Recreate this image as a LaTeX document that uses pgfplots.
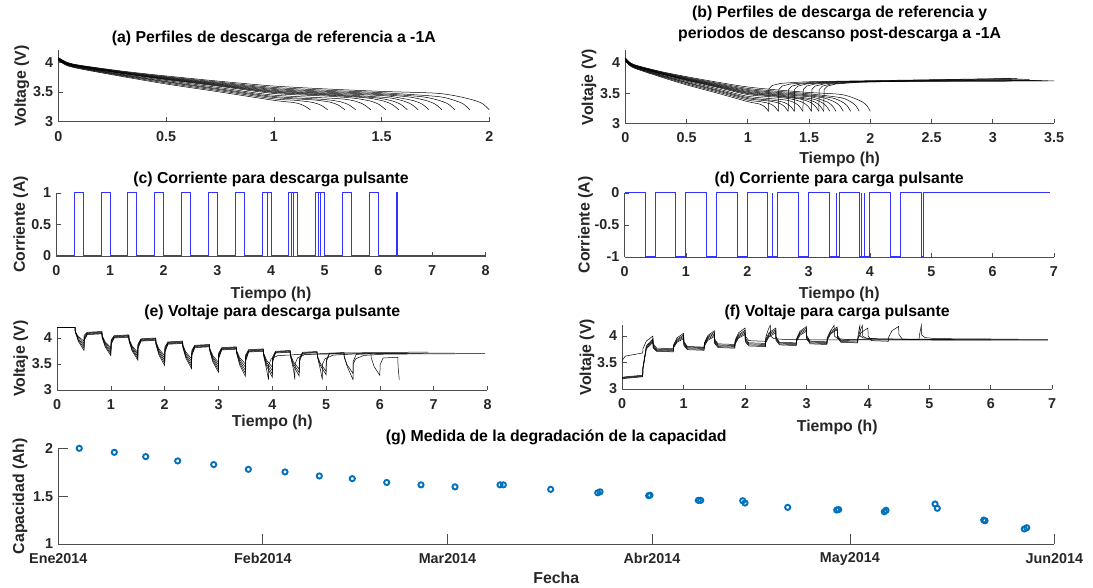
\documentclass[border=0pt]{standalone}
\usepackage{pgfplots}
\pgfplotsset{compat=1.18}
\usepackage{pgfplotstable}
\usepackage{fontspec}
\setmainfont{Liberation Sans}
\definecolor{mgray}{rgb}{0.15,0.15,0.15}
\definecolor{mblue}{rgb}{0,0.447,0.741}
\definecolor{pblue}{rgb}{0.2,0.2,1}
\newcommand\tfont{\fontsize{15.9}{21}\selectfont\bfseries}
\newcommand\kfont{\fontsize{14.4}{16}\selectfont\bfseries}

\pgfplotsset{
  myax/.style={
    scale only axis, clip=false,
    axis x line*=bottom, axis y line*=left,
    tick align=inside,
    axis line style={draw=black!70, line width=0.6bp},
    every tick/.style={draw=black!70, line width=0.6bp},
    major tick length=4.3bp,
    ticklabel style={font=\kfont, text=mgray, inner sep=0pt},
    xticklabel style={anchor=center, yshift=-14.5bp},
    yticklabel style={anchor=east, xshift=-5bp},
    title style={font=\tfont, text=black, anchor=center, inner sep=0pt, align=center},
    xlabel style={font=\tfont, text=mgray, at={(axis description cs:0.5,0)}, anchor=center, inner sep=0pt},
    ylabel style={font=\tfont, text=mgray, anchor=center, inner sep=0pt},
    unbounded coords=jump,
  },
  vline/.style={black, line width=0.5bp},
  sline/.style={black, line width=0.5bp, smooth, tension=0.45},
  cline/.style={draw=pblue, line width=1bp, line join=miter},
}

% ---------- reference discharge curves (a),(b)
\pgfplotstableread{
t v
0 4.08
0.04 4.00
0.1 3.95
0.3 3.85
0.5 3.77
0.75 3.68
1 3.60
1.25 3.55
1.5 3.51
1.75 3.48
1.85 3.43
1.93 3.36
1.97 3.30
2.0 3.2
}\cA
\pgfplotstableread{
t v
0 4.075
0.04 3.995
0.1 3.945
0.3 3.842
0.5 3.758
0.75 3.664
1 3.577
1.25 3.528
1.5 3.488
1.76 3.424
1.84 3.357
1.88 3.297
1.91 3.2
}\cB
\pgfplotstableread{
t v
0 4.07
0.04 3.99
0.1 3.94
0.3 3.836
0.5 3.749
0.75 3.651
1 3.558
1.25 3.51
1.5 3.47
1.69 3.419
1.77 3.355
1.81 3.295
1.84 3.2
}\cC
\pgfplotstableread{
t v
0 4.067
0.04 3.987
0.1 3.937
0.3 3.83
0.5 3.741
0.75 3.64
1 3.543
1.25 3.495
1.5 3.455
1.63 3.415
1.71 3.353
1.75 3.293
1.78 3.2
}\cD
\pgfplotstableread{
t v
0 4.063
0.04 3.983
0.1 3.933
0.3 3.825
0.5 3.734
0.75 3.63
1 3.527
1.25 3.48
1.5 3.44
1.57 3.41
1.65 3.352
1.69 3.292
1.72 3.2
}\cE
\pgfplotstableread{
t v
0 4.06
0.04 3.98
0.1 3.93
0.3 3.82
0.5 3.727
0.75 3.621
1 3.514
1.25 3.468
1.52 3.407
1.60 3.35
1.64 3.29
1.67 3.2
}\cF
\pgfplotstableread{
t v
0 4.057
0.04 3.977
0.1 3.927
0.3 3.816
0.5 3.721
0.75 3.612
1 3.501
1.25 3.455
1.47 3.403
1.55 3.349
1.59 3.289
1.62 3.2
}\cG
\pgfplotstableread{
t v
0 4.055
0.04 3.975
0.1 3.925
0.3 3.812
0.5 3.715
0.75 3.604
1 3.491
1.25 3.445
1.43 3.401
1.51 3.347
1.55 3.287
1.58 3.2
}\cH
\pgfplotstableread{
t v
0 4.051
0.04 3.971
0.1 3.921
0.3 3.807
0.5 3.708
0.75 3.594
1 3.475
1.25 3.43
1.37 3.396
1.45 3.346
1.49 3.286
1.52 3.2
}\cI
\pgfplotstableread{
t v
0 4.047
0.04 3.967
0.1 3.917
0.3 3.795
0.5 3.694
0.75 3.572
1 3.447
1.30 3.388
1.38 3.344
1.42 3.284
1.45 3.2
}\cJ
\pgfplotstableread{
t v
0 4.043
0.04 3.963
0.1 3.91
0.3 3.787
0.5 3.678
0.75 3.552
1 3.425
1.23 3.375
1.31 3.335
1.35 3.28
1.38 3.2
}\cK
\pgfplotstableread{
t v
0 4.04
0.04 3.958
0.1 3.905
0.3 3.78
0.5 3.668
0.75 3.538
1 3.408
1.18 3.368
1.26 3.33
1.30 3.278
1.33 3.2
}\cL
\pgfplotstableread{
t v
0 4.035
0.04 3.952
0.1 3.898
0.3 3.77
0.5 3.652
0.75 3.52
1 3.385
1.10 3.36
1.18 3.325
1.22 3.275
1.25 3.2
}\cM
\pgfplotstableread{
t v
0 4.03
0.04 3.945
0.1 3.89
0.3 3.758
0.5 3.635
0.75 3.5
1 3.36
1.10 3.318
1.14 3.27
1.17 3.2
}\cN

% ---------- pulsed discharge voltage (e)
\pgfplotstableread{
t e0 e1 e2 e3 e4
0 4.2 4.2 4.2 4.2 4.2
0.333 4.2 4.2 4.2 4.2 4.2
0.338 4.12 4.12 4.12 4.12 4.12
0.393 4.03 4.008 3.985 3.963 3.94
0.5 3.94 3.895 3.85 3.805 3.76
0.504 4.051 4.026 4.002 3.977 3.952
0.56 4.11 4.099 4.088 4.076 4.065
0.833 4.125 4.114 4.103 4.091 4.08
0.838 4.045 4.034 4.023 4.011 4.0
0.893 3.928 3.903 3.879 3.854 3.83
1.0 3.81 3.773 3.735 3.698 3.66
1.004 3.96 3.939 3.917 3.895 3.873
1.06 4.045 4.034 4.023 4.011 4.0
1.333 4.06 4.049 4.038 4.026 4.015
1.338 3.98 3.969 3.958 3.946 3.935
1.393 3.85 3.827 3.803 3.779 3.755
1.5 3.72 3.684 3.648 3.611 3.575
1.504 3.888 3.867 3.846 3.824 3.803
1.56 3.985 3.974 3.963 3.951 3.94
1.833 4.0 3.989 3.978 3.966 3.955
1.838 3.92 3.909 3.898 3.886 3.875
1.893 3.79 3.761 3.731 3.702 3.673
2.0 3.66 3.613 3.565 3.518 3.47
2.004 3.828 3.802 3.777 3.751 3.725
2.06 3.925 3.914 3.903 3.891 3.88
2.333 3.94 3.929 3.918 3.906 3.895
2.338 3.86 3.849 3.838 3.826 3.815
2.393 3.73 3.701 3.671 3.642 3.613
2.5 3.60 3.553 3.505 3.458 3.41
2.504 3.765 3.740 3.714 3.688 3.662
2.56 3.86 3.849 3.838 3.826 3.815
2.833 3.875 3.864 3.853 3.841 3.83
2.838 3.795 3.784 3.773 3.761 3.75
2.893 3.663 3.633 3.604 3.574 3.545
3.0 3.53 3.483 3.435 3.388 3.34
3.004 3.71 3.685 3.659 3.633 3.607
3.06 3.815 3.804 3.793 3.781 3.77
3.333 3.83 3.819 3.808 3.796 3.785
3.338 3.75 3.739 3.728 3.716 3.705
3.393 3.625 3.590 3.554 3.518 3.483
3.5 3.50 3.44 3.38 3.32 3.26
3.504 3.674 3.643 3.613 3.582 3.551
3.56 3.775 3.764 3.753 3.741 3.73
3.833 3.79 3.779 3.768 3.756 3.745
3.838 3.71 3.699 3.688 3.676 3.665
3.893 3.575 3.537 3.499 3.461 nan
4.0 3.44 3.375 3.31 3.245 nan
4.004 3.632 3.599 3.567 3.534 nan
4.06 3.745 3.734 3.723 3.711 nan
4.333 3.76 3.749 3.738 3.726 nan
4.338 3.68 3.669 3.658 3.646 nan
4.393 3.54 3.502 3.464 nan nan
4.5 3.40 3.335 3.27 nan nan
4.504 3.604 3.571 3.539 nan nan
4.56 3.725 3.714 3.703 nan nan
4.833 3.74 3.729 3.718 nan nan
4.838 3.66 3.649 3.638 nan nan
4.893 3.51 3.472 nan nan nan
5.0 3.36 3.295 nan nan nan
5.004 3.576 3.543 nan nan nan
5.06 3.705 3.694 nan nan nan
5.333 3.72 3.709 nan nan nan
5.338 3.64 3.629 nan nan nan
5.393 3.48 nan nan nan nan
5.5 3.32 nan nan nan nan
5.504 3.548 nan nan nan nan
5.56 3.685 nan nan nan nan
5.833 3.70 nan nan nan nan
5.838 3.62 nan nan nan nan
5.893 3.45 nan nan nan nan
6.0 3.28 nan nan nan nan
6.004 3.49 nan nan nan nan
6.06 3.615 nan nan nan nan
6.333 3.63 nan nan nan nan
6.338 3.45 nan nan nan nan
}\tE

% ---------- pulsed charge voltage (f)
\pgfplotstableread{
t f1 f2 f3 f4 f0
0 3.19 3.20 3.21 3.22 3.54
0.05 3.20 3.21 3.22 3.23 3.62
0.333 3.23 3.24 3.25 3.26 3.68
0.338 3.38 3.39 3.40 3.41 3.76
0.393 3.755 3.775 3.795 3.815 3.904
0.5 3.88 3.903 3.927 3.95 4.0
0.504 3.772 3.789 3.807 3.824 3.856
0.56 3.712 3.725 3.739 3.752 3.772
0.833 3.70 3.713 3.727 3.74 3.76
0.838 3.78 3.793 3.807 3.82 3.84
0.893 3.882 3.901 3.921 3.94 3.966
1.0 3.95 3.973 3.997 4.02 4.05
1.004 3.818 3.837 3.857 3.876 3.894
1.06 3.742 3.759 3.776 3.792 3.802
1.333 3.73 3.747 3.764 3.78 3.79
1.338 3.81 3.827 3.844 3.86 3.87
1.393 3.918 3.940 3.964 3.986 4.008
1.5 3.99 4.016 4.044 4.07 4.1
1.504 3.858 3.879 3.90 3.92 3.944
1.56 3.782 3.799 3.816 3.832 3.852
1.833 3.77 3.787 3.804 3.82 3.84
1.838 3.85 3.867 3.884 3.90 3.92
1.893 3.958 3.980 4.004 4.026 4.058
2.0 4.03 4.056 4.084 4.11 4.15
2.004 3.892 3.914 3.938 3.96 4.0
2.06 3.812 3.832 3.852 3.872 3.912
2.333 3.80 3.82 3.84 3.86 3.90
2.338 3.88 3.90 3.92 3.94 3.98
2.393 3.988 4.014 4.04 4.066 nan
2.5 4.06 4.09 4.12 4.15 nan
2.504 3.916 3.938 3.96 3.982 nan
2.56 3.832 3.849 3.866 3.882 nan
2.833 3.82 3.837 3.854 3.87 nan
2.838 3.90 3.917 3.934 3.95 nan
2.893 4.014 4.039 4.064 4.088 nan
3.0 4.09 4.12 4.15 4.18 nan
3.004 3.94 3.962 3.984 4.006 nan
3.06 3.852 3.869 3.886 3.902 nan
3.333 3.84 3.857 3.874 3.89 nan
3.338 3.92 3.937 3.954 3.97 nan
3.393 4.04 4.059 4.084 nan nan
3.5 4.12 4.14 4.17 nan nan
3.504 3.97 3.987 4.011 nan nan
3.56 3.882 3.897 3.917 nan nan
3.833 3.87 3.885 3.905 nan nan
3.838 3.95 3.965 3.985 nan nan
3.893 4.07 nan nan nan nan
4.0 4.15 nan nan nan nan
4.004 4.0 nan nan nan nan
4.06 3.912 nan nan nan nan
4.333 3.90 nan nan nan nan
4.338 3.98 nan nan nan nan
4.393 4.10 nan nan nan nan
4.5 4.18 nan nan nan nan
4.504 4.03 nan nan nan nan
4.56 3.942 nan nan nan nan
4.833 3.93 nan nan nan nan
4.838 4.01 nan nan nan nan
}\tF

\begin{document}
\begin{tikzpicture}[x=1bp,y=1bp]

% ===== (a)
\begin{axis}[myax, at={(58.3bp,466.3bp)}, anchor=south west, width=431bp, height=71.3bp,
  xmin=0, xmax=2, ymin=3, ymax=4.2,
  xtick={0,0.5,1,1.5,2}, xticklabels={0,0.5,1,1.5,2},
  ytick={3,3.5,4}, yticklabels={3,3.5,4},
  title={(a) Perfiles de descarga de referencia a -1A}, title style={at={(axis description cs:0.5,1)}, yshift=6.2bp},
  ylabel={Voltage (V)}, ylabel style={at={(axis description cs:-0.0849,0.5)}},
]
\addplot[sline] table {\cA};
\addplot[sline] table {\cB};
\addplot[sline] table {\cC};
\addplot[sline] table {\cD};
\addplot[sline] table {\cE};
\addplot[sline] table {\cF};
\addplot[sline] table {\cG};
\addplot[sline] table {\cH};
\addplot[sline] table {\cI};
\addplot[sline] table {\cJ};
\addplot[sline] table {\cK};
\addplot[sline] table {\cL};
\addplot[sline] table {\cM};
\addplot[sline] table {\cN};
\end{axis}

% ===== (b)
\begin{axis}[myax, at={(625.3bp,464.5bp)}, anchor=south west, width=428.7bp, height=73bp,
  xmin=0, xmax=3.5, ymin=3, ymax=4.2,
  xtick={0,0.5,1,1.5,2,2.5,3,3.5}, xticklabels={0,0.5,1,1.5,2,2.5,3,3.5},
  ytick={3,3.5,4}, yticklabels={3,3.5,4},
  title={(b) Perfiles de descarga de referencia y\\periodos de descanso post-descarga a -1A},
  title style={at={(axis description cs:0.5,1)}, yshift=20.5bp},
  ylabel={Voltaje (V)}, ylabel style={at={(axis description cs:-0.0847,0.5)}},
  xlabel={Tiempo (h)}, xlabel style={yshift=-36bp},
]
\addplot[sline] table {\cA};
\addplot[sline] table {\cB};
\addplot[sline] table {\cC};
\addplot[sline] table {\cD};
\addplot[sline] table {\cE};
\addplot[sline] table {\cF};
\addplot[sline] table {\cG};
\addplot[sline] table {\cH};
\addplot[sline] table {\cI};
\addplot[sline] table {\cJ};
\addplot[sline] table {\cK};
\addplot[sline] table {\cL};
\addplot[sline] table {\cM};
\addplot[sline] table {\cN};
\addplot[vline] coordinates {(1.62,3.2)(1.623,3.56)(1.65,3.615)(1.72,3.65)(1.92,3.68)(2.32,3.695)(3.5,3.70)};
\addplot[vline] coordinates {(1.58,3.2)(1.583,3.56)(1.61,3.615)(1.68,3.65)(1.88,3.68)(2.28,3.695)(3.45,3.70)};
\addplot[vline] coordinates {(1.52,3.2)(1.523,3.56)(1.55,3.615)(1.62,3.65)(1.82,3.68)(2.22,3.695)(3.4,3.705)};
\addplot[vline] coordinates {(1.45,3.2)(1.453,3.56)(1.48,3.615)(1.55,3.65)(1.75,3.68)(2.15,3.695)(3.35,3.71)};
\addplot[vline] coordinates {(1.38,3.2)(1.383,3.56)(1.41,3.615)(1.48,3.65)(1.68,3.68)(2.08,3.695)(3.3,3.72)};
\addplot[vline] coordinates {(1.33,3.2)(1.333,3.56)(1.36,3.615)(1.43,3.65)(1.63,3.68)(2.03,3.695)(3.25,3.73)};
\addplot[vline] coordinates {(1.25,3.2)(1.253,3.56)(1.28,3.615)(1.35,3.65)(1.55,3.68)(1.95,3.695)(3.2,3.74)};
\addplot[vline] coordinates {(1.17,3.2)(1.173,3.57)(1.2,3.625)(1.27,3.66)(1.47,3.685)(1.87,3.70)(3.15,3.74)};
\end{axis}

% ===== (c)
\begin{axis}[myax, at={(56.4bp,332bp)}, anchor=south west, width=429.3bp, height=63bp,
  xmin=0, xmax=8, ymin=0, ymax=1,
  xtick={0,1,2,3,4,5,6,7,8}, xticklabels={0,1,2,3,4,5,6,7,8},
  ytick={0,0.5,1}, yticklabels={0,0.5,1},
  title={(c) Corriente para descarga pulsante}, title style={at={(axis description cs:0.5,1)}, yshift=7.5bp},
  ylabel={Corriente (A)}, ylabel style={at={(axis description cs:-0.0832,0.5)}},
  xlabel={Tiempo (h)}, xlabel style={yshift=-38bp},
]
\addplot[cline] coordinates {(0,0)(0.333,0)(0.333,1)(0.5,1)(0.5,0)(0.833,0)(0.833,1)(1,1)(1,0)(1.333,0)(1.333,1)(1.5,1)(1.5,0)(1.833,0)(1.833,1)(2,1)(2,0)(2.333,0)(2.333,1)(2.5,1)(2.5,0)(2.833,0)(2.833,1)(3,1)(3,0)(3.333,0)(3.333,1)(3.5,1)(3.5,0)(3.833,0)(3.833,1)(4,1)(4,0)(4.333,0)(4.333,1)(4.5,1)(4.5,0)(4.833,0)(4.833,1)(5,1)(5,0)(5.333,0)(5.333,1)(5.5,1)(5.5,0)(5.833,0)(5.833,1)(6,1)(6,0)(6.333,0)(6.333,1)(6.36,1)(6.36,0)(8,0)};
\addplot[cline] coordinates {(3.93,1)(3.93,0)(3.93,nan)(4.39,1)(4.39,0)(4.39,nan)(4.42,1)(4.42,0)(4.42,nan)(4.89,1)(4.89,0)(4.89,nan)(4.93,1)(4.93,0)};
\end{axis}

% ===== (d)
\begin{axis}[myax, at={(624.6bp,331bp)}, anchor=south west, width=429.3bp, height=64bp,
  xmin=0, xmax=7, ymin=-1, ymax=0,
  xtick={0,1,2,3,4,5,6,7}, xticklabels={0,1,2,3,4,5,6,7},
  ytick={-1,-0.5,0}, yticklabels={-1,-0.5,0},
  title={(d) Corriente para carga pulsante}, title style={at={(axis description cs:0.5,1)}, yshift=7.5bp},
  ylabel={Corriente (A)}, ylabel style={at={(axis description cs:-0.0911,0.5)}},
  xlabel={Tiempo (h)}, xlabel style={yshift=-37bp},
]
\addplot[cline] coordinates {(0,0)(0.333,0)(0.333,-1)(0.5,-1)(0.5,0)(0.833,0)(0.833,-1)(1,-1)(1,0)(1.333,0)(1.333,-1)(1.5,-1)(1.5,0)(1.833,0)(1.833,-1)(2,-1)(2,0)(2.333,0)(2.333,-1)(2.5,-1)(2.5,0)(2.833,0)(2.833,-1)(3,-1)(3,0)(3.333,0)(3.333,-1)(3.5,-1)(3.5,0)(3.833,0)(3.833,-1)(4,-1)(4,0)(4.333,0)(4.333,-1)(4.5,-1)(4.5,0)(4.833,0)(4.833,-1)(4.87,-1)(4.87,0)(6.93,0)};
\addplot[cline] coordinates {(2.41,-1)(2.41,0)(2.41,nan)(3.45,-1)(3.45,0)(3.45,nan)(3.87,-1)(3.87,0)(3.87,nan)(3.91,-1)(3.91,0)};
\end{axis}

% ===== (e)
\begin{axis}[myax, at={(57.1bp,198bp)}, anchor=south west, width=430.4bp, height=62.4bp,
  xmin=0, xmax=8, ymin=3, ymax=4.2,
  xtick={0,1,2,3,4,5,6,7,8}, xticklabels={0,1,2,3,4,5,6,7,8},
  ytick={3,3.5,4}, yticklabels={3,3.5,4},
  title={(e) Voltaje para descarga pulsante}, title style={at={(axis description cs:0.5,1)}, yshift=9bp},
  ylabel={Voltaje (V)}, ylabel style={at={(axis description cs:-0.0846,0.5)}},
  xlabel={Tiempo (h)}, xlabel style={yshift=-32bp},
]
\addplot[vline] table[x=t,y=e0] {\tE};
\addplot[vline] table[x=t,y=e1] {\tE};
\addplot[vline] table[x=t,y=e2] {\tE};
\addplot[vline] table[x=t,y=e3] {\tE};
\addplot[vline] table[x=t,y=e4] {\tE};
\addplot[vline] coordinates {(6.338,3.45)(6.36,3.2)};
\addplot[vline] coordinates {(5.338,3.629)(5.393,3.45)(5.5,3.2)(5.503,3.5)(5.55,3.6)(5.7,3.665)(6.1,3.69)(7.95,3.70)};
\addplot[vline] coordinates {(4.838,3.638)(4.893,3.40)(4.93,3.2)(4.933,3.5)(4.98,3.6)(5.13,3.67)(5.6,3.70)(7.4,3.71)};
\addplot[vline] coordinates {(4.338,3.646)(4.393,3.40)(4.42,3.2)(4.423,3.5)(4.47,3.62)(4.6,3.68)(5.1,3.71)(6.9,3.73)};
\addplot[vline] coordinates {(3.838,3.665)(3.893,3.4)(3.93,3.2)(3.933,3.48)(3.98,3.6)(4.1,3.66)(4.6,3.69)(6.5,3.70)};
\end{axis}

% ===== (f)
\begin{axis}[myax, at={(622.2bp,199bp)}, anchor=south west, width=430bp, height=63.6bp,
  xmin=0, xmax=7, ymin=3, ymax=4.2,
  xtick={0,1,2,3,4,5,6,7}, xticklabels={0,1,2,3,4,5,6,7},
  ytick={3,3.5,4}, yticklabels={3,3.5,4},
  title={(f) Voltaje para carga pulsante}, title style={at={(axis description cs:0.5,1)}, yshift=7bp},
  ylabel={Voltaje (V)}, ylabel style={at={(axis description cs:-0.0819,0.5)}},
  xlabel={Tiempo (h)}, xlabel style={yshift=-38bp},
]
\addplot[vline] table[x=t,y=f1] {\tF};
\addplot[vline] table[x=t,y=f2] {\tF};
\addplot[vline] table[x=t,y=f3] {\tF};
\addplot[vline] table[x=t,y=f4] {\tF};
\addplot[vline] table[x=t,y=f0] {\tF};
\addplot[vline] coordinates {(4.838,4.01)(4.87,4.2)(4.873,4.02)(4.93,3.97)(5.1,3.95)(6.45,3.94)};
\addplot[vline] coordinates {(3.838,3.965)(3.88,4.12)(3.91,4.2)(3.913,4.0)(3.97,3.96)(4.2,3.94)(6.93,3.93)};
\addplot[vline] coordinates {(3.838,3.985)(3.86,4.15)(3.87,4.2)(3.873,4.0)(3.93,3.96)(4.2,3.945)(5.4,3.935)};
\addplot[vline] coordinates {(3.338,3.97)(3.393,4.1)(3.45,4.2)(3.453,4.0)(3.51,3.95)(3.7,3.93)(6.0,3.925)};
\addplot[vline] coordinates {(2.338,3.98)(2.38,4.13)(2.41,4.2)(2.413,4.0)(2.47,3.95)(2.7,3.93)(6.93,3.92)};
\end{axis}

% ===== (g)
\begin{axis}[myax, at={(58.3bp,44bp)}, anchor=south west, width=996bp, height=95.7bp,
  xmin=0, xmax=151, ymin=1, ymax=2, major tick length=10bp,
  xtick={0,31,59,90,120,151}, xticklabels={Ene2014,Feb2014,Mar2014,Abr2014,May2014,Jun2014},
  ytick={1,1.5,2}, yticklabels={1,1.5,2},
  title={(g) Medida de la degradación de la capacidad}, title style={at={(axis description cs:0.5,1)}, yshift=5.1bp},
  ylabel={Capacidad (Ah)}, ylabel style={at={(axis description cs:-0.0385,0.5)}},
  xlabel={Fecha}, xlabel style={yshift=-34bp},
]
\addplot[only marks, mark=o, mark size=2.6bp, mark options={draw=mblue, line width=1.9bp}] coordinates {
(3.18,2.00)(8.49,1.958)(13.25,1.913)(18.10,1.868)(23.56,1.83)(28.81,1.78)(34.37,1.753)(39.57,1.711)(44.57,1.683)(49.79,1.643)(54.99,1.618)(60.14,1.597)(66.97,1.618)(67.47,1.618)(74.65,1.571)(81.78,1.535)(82.13,1.545)(89.5,1.505)(89.7,1.51)(97.03,1.456)(97.39,1.456)(103.76,1.452)(104.11,1.428)(110.58,1.383)(118.01,1.355)(118.31,1.36)(125.23,1.337)(125.49,1.352)(132.92,1.418)(133.26,1.373)(140.3,1.25)(140.5,1.243)(146.45,1.157)(146.82,1.17)};
\end{axis}

\pgfresetboundingbox
\path[use as bounding box] (0bp,0bp) rectangle (1093bp,588bp);
\end{tikzpicture}
\end{document}
